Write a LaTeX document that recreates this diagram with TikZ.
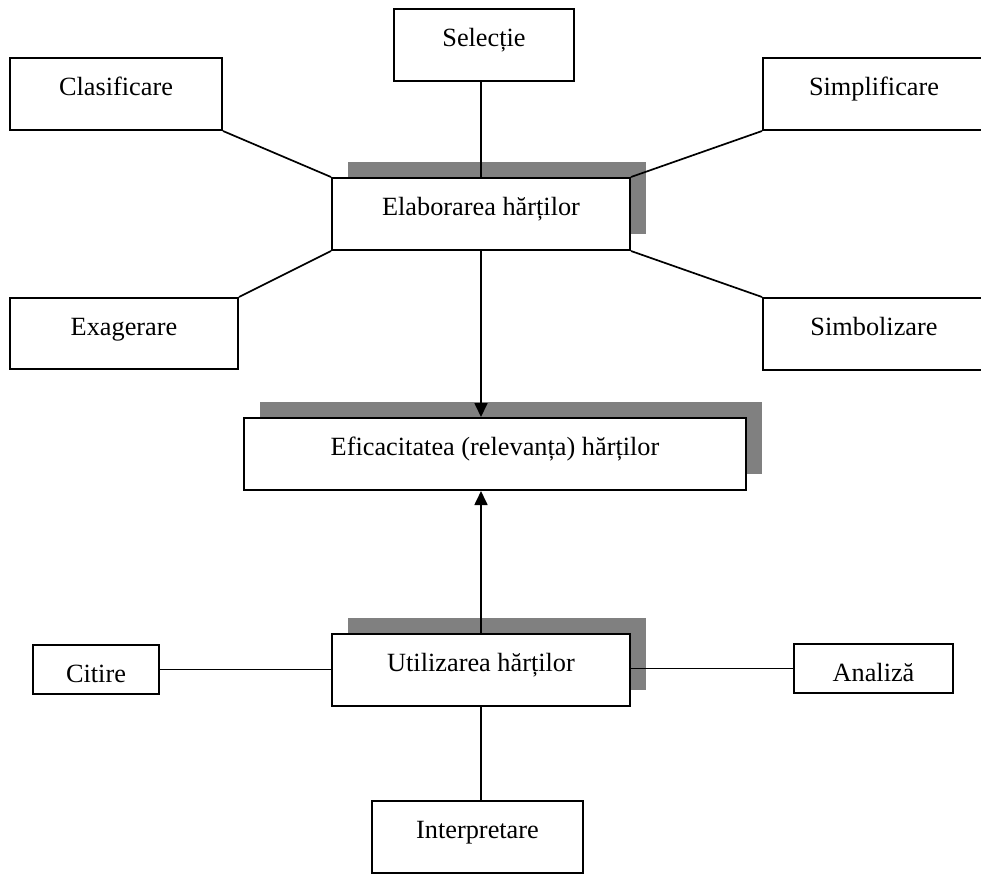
\documentclass[tikz,border=0pt]{standalone}
\usepackage{fontspec}
\setmainfont{Liberation Serif}
\usetikzlibrary{arrows.meta,shadows}
\definecolor{shadowgray}{HTML}{808080}
\begin{document}
\begin{tikzpicture}[x=1pt,y=-1pt,
  box/.style={draw, line width=2pt, fill=white, inner sep=0pt, anchor=north west,
    text height=37pt, text depth=35pt, font=\fontsize{26.3}{30}\selectfont},
  smallbox/.style={box, text depth=12pt},
  shadowed/.style={general shadow={fill=shadowgray, shadow xshift=16pt, shadow yshift=16pt}},
  conn/.style={line width=1.7pt},
  arr/.style={conn, -{Triangle[length=14pt,width=13pt]}}]
\useasboundingbox (0,0) rectangle (981,873);
\clip (0,0) rectangle (981,873);
% nodes
\node[box, minimum width=180pt] (sel) at (393,8) {Selecție};
\node[box, minimum width=212pt] (clas) at (9,57) {Clasificare};
\node[box, minimum width=222pt] (simp) at (762,57) {Simplificare};
\node[box, shadowed, minimum width=298pt] (elab) at (331,177) {Elaborarea hărților};
\node[box, minimum width=228pt, text depth=34pt] (exag) at (9,297) {Exagerare};
\node[box, minimum width=222pt] (simb) at (762,297) {Simbolizare};
\node[box, shadowed, minimum width=502pt] (efic) at (243,417) {Eficacitatea (relevanța) hărților};
\node[box, shadowed, minimum width=298pt] (util) at (331,633) {Utilizarea hărților};
\node[smallbox, minimum width=126pt] (cit) at (32,644) {Citire};
\node[smallbox, minimum width=159pt] (anal) at (793,643) {Analiză};
\node[box, minimum width=211pt] (interp) at (371,800) {Interpretare};
% connectors
\draw[conn] (elab.north) -- (elab.north |- sel.south);
\draw[conn] (clas.south east) -- (elab.north west);
\draw[conn] (elab.south west) -- (exag.north east);
\draw[conn] (elab.north east) -- (simp.south west);
\draw[conn] (elab.south east) -- (simb.north west);
\draw[arr] (elab.south) -- (elab.south |- efic.north);
\draw[arr] (util.north) -- (util.north |- efic.south);
\draw[conn] (cit.east) -- (cit.east -| util.west);
\draw[conn] (util.east |- anal.west) -- (anal.west);
\draw[conn] (util.south) -- (util.south |- interp.north);
\end{tikzpicture}
\end{document}
